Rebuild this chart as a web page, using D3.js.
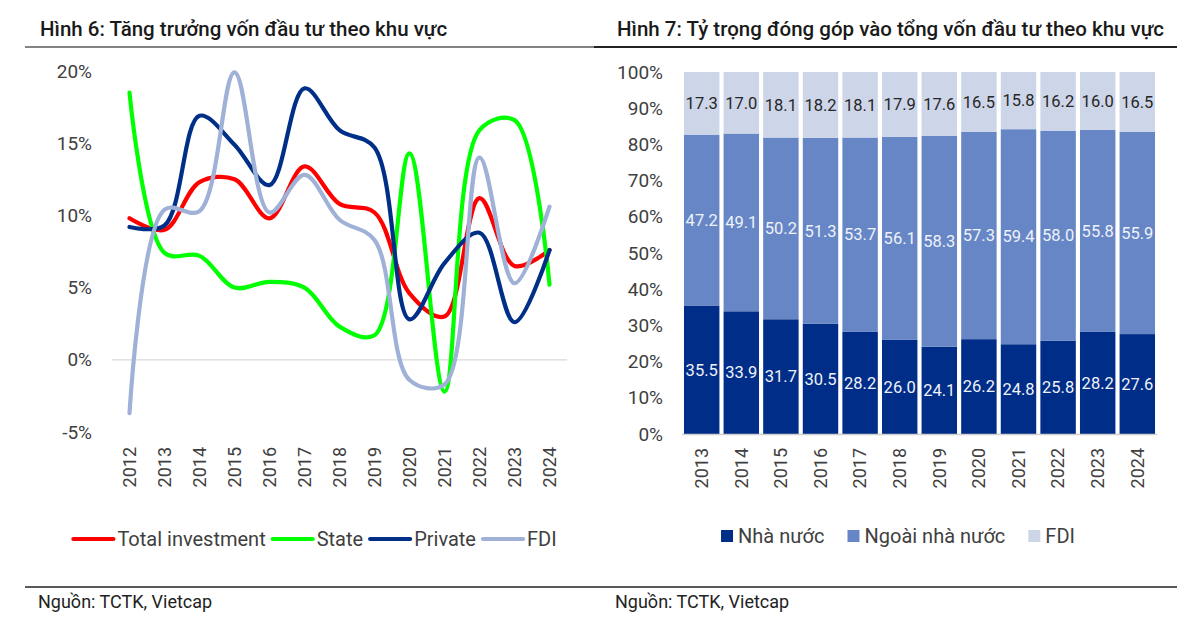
<!DOCTYPE html>
<html><head><meta charset="utf-8">
<script src="https://cdn.jsdelivr.net/npm/d3@7"></script>
<style>
html,body{margin:0;padding:0;background:#fff;}
svg{display:block;font-family:Roboto,"Noto Sans",sans-serif;}
</style></head>
<body>
<svg id="c" width="1200" height="618"></svg>
<script>
// ---------- data: left chart (growth, %) ----------
const years1 = ["2012","2013","2014","2015","2016","2017","2018","2019","2020","2021","2022","2023","2024"];
const totalInvestment = [9.8, 9.0, 12.3, 12.5, 9.8, 13.4, 10.8, 10.2, 4.6, 3.0, 11.2, 6.5, 7.6];
const stateInv        = [18.5, 7.4, 7.2, 5.0, 5.4, 5.0, 2.3, 1.7, 14.3, -2.2, 15.9, 16.6, 5.2];
const privateInv      = [9.2, 9.3, 16.9, 14.9, 12.1, 18.8, 15.9, 14.7, 2.8, 6.7, 8.8, 2.6, 7.6];
const fdiInv          = [-3.7, 10.4, 10.3, 19.9, 10.2, 12.8, 9.7, 8.3, -1.4, -1.7, 14.0, 5.3, 10.6];
const seriesNames1 = ["Total investment","State","Private","FDI"];
const yTicks1 = [-5, 0, 5, 10, 15, 20];

// ---------- data: right chart (share, %) ----------
const years2 = ["2013","2014","2015","2016","2017","2018","2019","2020","2021","2022","2023","2024"];
const nhaNuoc   = [35.5, 33.9, 31.7, 30.5, 28.2, 26.0, 24.1, 26.2, 24.8, 25.8, 28.2, 27.6];
const ngoaiNN   = [47.2, 49.1, 50.2, 51.3, 53.7, 56.1, 58.3, 57.3, 59.4, 58.0, 55.8, 55.9];
const fdiShare  = [17.3, 17.0, 18.1, 18.2, 18.1, 17.9, 17.6, 16.5, 15.8, 16.2, 16.0, 16.5];
const seriesNames2 = ["Nhà nước","Ngoài nhà nước","FDI"];
const yTicks2 = [0,10,20,30,40,50,60,70,80,90,100];

const title1 = "Hình 6: Tăng trưởng vốn đầu tư theo khu vực";
const title2 = "Hình 7: Tỷ trọng đóng góp vào tổng vốn đầu tư theo khu vực";
const sourceText = "Nguồn: TCTK, Vietcap";

const svg = d3.select("#c");
const TXT = "#404040";

// ---------- headers & rules ----------
svg.append("text").attr("x",40).attr("y",36).attr("font-size",20.5).attr("font-weight",500).attr("fill","#1a1a1a").text(title1);
svg.append("text").attr("x",617).attr("y",36).attr("font-size",20.5).attr("font-weight",500).attr("fill","#1a1a1a").text(title2);
svg.append("line").attr("x1",25).attr("x2",594).attr("y1",47).attr("y2",47).attr("stroke","#5a5a5a").attr("stroke-width",1.6);
svg.append("line").attr("x1",594).attr("x2",1177).attr("y1",47).attr("y2",47).attr("stroke","#222").attr("stroke-width",1.8);
svg.append("line").attr("x1",25).attr("x2",600).attr("y1",587).attr("y2",587).attr("stroke","#222").attr("stroke-width",1.6);
svg.append("line").attr("x1",600).attr("x2",1177).attr("y1",587).attr("y2",587).attr("stroke","#222").attr("stroke-width",1.6);
svg.append("text").attr("x",38).attr("y",608).attr("font-size",18).attr("fill","#222").text(sourceText);
svg.append("text").attr("x",615).attr("y",608).attr("font-size",18).attr("fill","#222").text(sourceText);

// ---------- left chart ----------
const x1 = d3.scalePoint().domain(years1).range([112,567]).padding(0.5);
const y1 = d3.scaleLinear().domain([-5,20]).range([432,71]);
const g1 = svg.append("g");
g1.append("line").attr("x1",112).attr("x2",567).attr("y1",y1(0)).attr("y2",y1(0)).attr("stroke","#d9d9d9").attr("stroke-width",1.3);
g1.selectAll("text.yt").data(yTicks1).join("text").attr("class","yt")
  .attr("x",92).attr("y",d=>y1(d)).attr("dy","0.35em").attr("text-anchor","end")
  .attr("font-size",19).attr("fill",TXT).text(d=>d+"%");
g1.selectAll("text.xt").data(years1).join("text").attr("class","xt")
  .attr("transform",d=>`translate(${x1(d)},447) rotate(-90)`).attr("dy","0.35em").attr("text-anchor","end")
  .attr("font-size",18).attr("fill",TXT).text(d=>d);

const colors1 = ["#ff0000","#00ff00","#002f87","#9fb1d7"];
const data1 = [totalInvestment, stateInv, privateInv, fdiInv];
const line = d3.line().x((d,i)=>x1(years1[i])).y(d=>y1(d)).curve(d3.curveCatmullRom.alpha(0.5));
data1.forEach((arr,k)=>{
  g1.append("path").attr("d",line(arr)).attr("fill","none").attr("stroke",colors1[k]).attr("stroke-width",4.2).attr("stroke-linejoin","round").attr("stroke-linecap","round");
});

// left legend
const lg1 = svg.append("g");
let cx = 0;
seriesNames1.forEach((n,k)=>{
  const it = lg1.append("g");
  it.append("line").attr("x1",0).attr("x2",40).attr("y1",0).attr("y2",0).attr("stroke",colors1[k]).attr("stroke-width",4.2).attr("stroke-linecap","round");
  const t = it.append("text").attr("x",44).attr("y",0).attr("dy","0.35em").attr("font-size",20).attr("fill",TXT).text(n);
  const w = 44 + t.node().getComputedTextLength();
  it.attr("transform",`translate(${cx},0)`);
  cx += w + 7;
});
const tot1 = cx - 7;
lg1.attr("transform",`translate(${315 - tot1/2},539)`);

// ---------- right chart ----------
const x2 = d3.scaleBand().domain(years2).range([682,1157]).paddingInner(0.105).paddingOuter(0.05);
const y2 = d3.scaleLinear().domain([0,100]).range([434,72]);
const g2 = svg.append("g");
g2.selectAll("text.yt").data(yTicks2).join("text").attr("class","yt")
  .attr("x",663).attr("y",d=>y2(d)).attr("dy","0.35em").attr("text-anchor","end")
  .attr("font-size",19).attr("fill",TXT).text(d=>d+"%");
g2.selectAll("text.xt").data(years2).join("text").attr("class","xt")
  .attr("transform",d=>`translate(${x2(d)+x2.bandwidth()/2},448) rotate(-90)`).attr("dy","0.35em").attr("text-anchor","end")
  .attr("font-size",18).attr("fill",TXT).text(d=>d);

const colors2 = ["#002d87","#6786c5","#cdd5e8"];
const labelColors2 = ["#eef2fa","#eef2fa","#262626"];
const rows = years2.map((y,i)=>({year:y, a:nhaNuoc[i], b:ngoaiNN[i], c:fdiShare[i]}));
const stack = d3.stack().keys(["a","b","c"])(rows);
stack.forEach((layer,k)=>{
  g2.selectAll(null).data(layer).join("rect")
    .attr("x",d=>x2(d.data.year)).attr("width",x2.bandwidth())
    .attr("y",d=>y2(d[1])).attr("height",d=>y2(d[0])-y2(d[1]))
    .attr("fill",colors2[k]);
});
g2.append("line").attr("x1",682).attr("x2",1157).attr("y1",y2(0)+0.5).attr("y2",y2(0)+0.5).attr("stroke","#d0d0d0").attr("stroke-width",1.5);
stack.forEach((layer,k)=>{
  g2.selectAll(null).data(layer).join("text")
    .attr("x",d=>x2(d.data.year)+x2.bandwidth()/2).attr("y",d=>y2((d[0]+d[1])/2)).attr("dy","0.35em")
    .attr("text-anchor","middle").attr("font-size",16.5).attr("fill",labelColors2[k])
    .text(d=>(d[1]-d[0]).toFixed(1));
});

// right legend
const lg2 = svg.append("g");
let cx2 = 0;
seriesNames2.forEach((n,k)=>{
  const it = lg2.append("g");
  it.append("rect").attr("x",0).attr("y",-6).attr("width",12).attr("height",12).attr("fill",colors2[k]);
  const t = it.append("text").attr("x",17).attr("y",0).attr("dy","0.35em").attr("font-size",20).attr("fill",TXT).text(n);
  const w = 17 + t.node().getComputedTextLength();
  it.attr("transform",`translate(${cx2},0)`);
  cx2 += w + 23;
});
const tot2 = cx2 - 23;
lg2.attr("transform",`translate(${898 - tot2/2},536)`);
</script>
</body></html>
